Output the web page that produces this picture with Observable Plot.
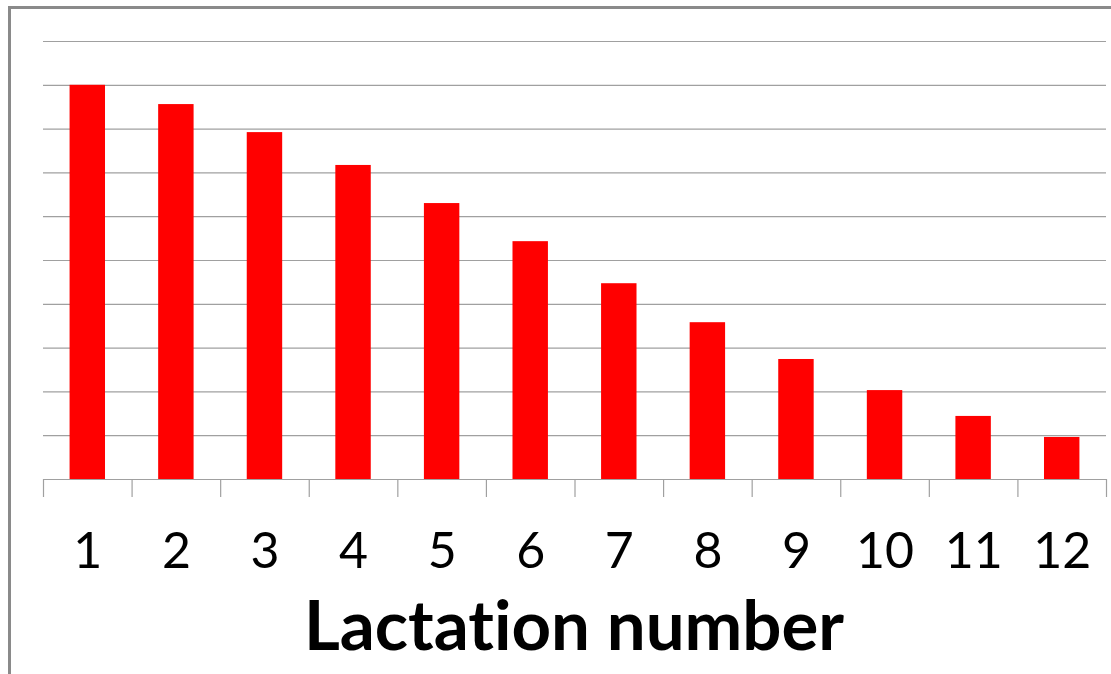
<!DOCTYPE html>
<html>
<head>
<meta charset="utf-8">
<script src="https://cdn.jsdelivr.net/npm/d3@7"></script>
<script src="https://cdn.jsdelivr.net/npm/@observablehq/plot@0.6"></script>
<style>
  html, body { margin: 0; padding: 0; background: #fff; overflow: hidden; }
  #wrap { position: relative; width: 1111px; height: 674px; overflow: hidden; }
  #frame { position: absolute; left: 8px; top: 6px; width: 1200px; height: 800px;
           border-left: 3px solid #8a8a8a; border-top: 3px solid #8a8a8a; box-sizing: border-box; }
  #chart { position: absolute; left: 0; top: 0; }
  #title { position: absolute; left: 0; top: 582px; width: 1148px; text-align: center;
           font-family: Lato, sans-serif; font-weight: bold; font-size: 69px; line-height: 84px; color: #000;
           font-variant-ligatures: none; font-feature-settings: "liga" 0, "clig" 0; }
  svg text { font-variant-ligatures: none; }
</style>
</head>
<body>
<div id="wrap">
  <div id="frame"></div>
  <div id="chart"></div>
  <div id="title">Lactation number</div>
</div>
<script>
const lactations = [1, 2, 3, 4, 5, 6, 7, 8, 9, 10, 11, 12];
const values = [9.0, 8.56, 7.92, 7.17, 6.30, 5.43, 4.47, 3.58, 2.74, 2.03, 1.44, 0.96];
const gridValues = [1, 2, 3, 4, 5, 6, 7, 8, 9, 10];
const tickLabels = ["1", "2", "3", "4", "5", "6", "7", "8", "9", "10", "11", "12"];

const data = lactations.map((n, i) => ({n, value: values[i]}));
const boundaries = d3.range(0.5, lactations.length + 1, 1);
const halfBar = 0.2;

const chart = Plot.plot({
  width: 1111,
  height: 590,
  marginLeft: 43,
  marginRight: 5,
  marginTop: 41,
  marginBottom: 111,
  x: {type: "linear", domain: [0.5, 12.5]},
  y: {domain: [0, 10], axis: null},
  style: {fontFamily: "Lato, sans-serif", background: "transparent"},
  marks: [
    Plot.ruleY(gridValues, {stroke: "#a0a0a0", strokeWidth: 1.2}),
    Plot.rectY(data, {x1: d => d.n - halfBar, x2: d => d.n + halfBar, y: "value", fill: "#ff0000"}),
    Plot.ruleY([0], {stroke: "#a0a0a0", strokeWidth: 1.2}),
    Plot.axisX({ticks: boundaries, tickSize: 18, tickFormat: () => "", stroke: "#a0a0a0", strokeWidth: 1.2, label: null}),
    Plot.axisX({ticks: lactations, tickSize: 0, tickPadding: 53, tickFormat: (d) => tickLabels[lactations.indexOf(d)], fontSize: 50, fill: "#000", label: null})
  ]
});
document.getElementById("chart").appendChild(chart);
</script>
</body>
</html>
